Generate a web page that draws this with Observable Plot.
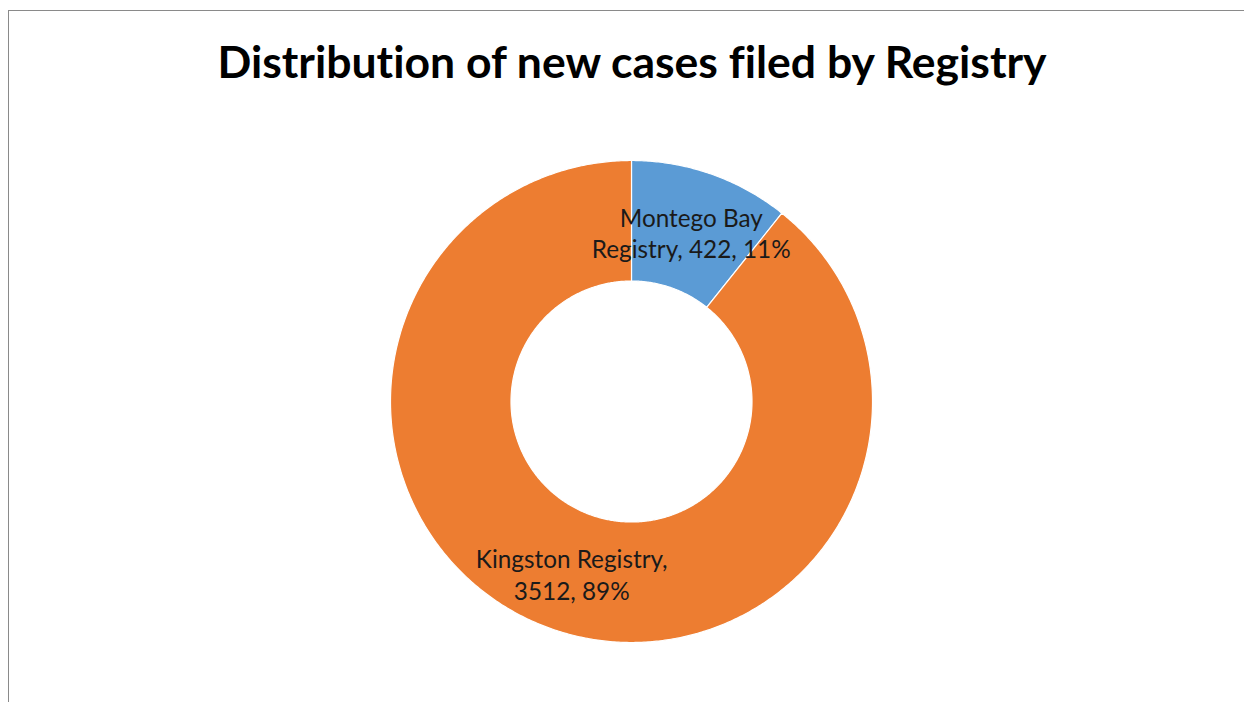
<!DOCTYPE html>
<html>
<head>
<meta charset="utf-8">
<script src="https://cdn.jsdelivr.net/npm/d3@7"></script>
<script src="https://cdn.jsdelivr.net/npm/@observablehq/plot@0.6"></script>
<style>
  html, body { margin: 0; padding: 0; background: #fff; }
  #wrap { position: relative; width: 1244px; height: 702px; overflow: hidden; }
  #frame { position: absolute; left: 8px; top: 10px; width: 1250px; height: 700px;
           border-left: 1.5px solid #8a8a8a; border-top: 1.5px solid #8a8a8a; box-sizing: border-box; }
  #title { position: absolute; left: 0; width: 1264px; top: 35px; text-align: center;
           font-family: Lato, "Open Sans", sans-serif; font-weight: 700; font-size: 44.5px; color: #000;
           font-variant-ligatures: none; line-height: 1.15; }
  #chart { position: absolute; left: 0; top: 0; }
  #chart text { font-variant-ligatures: none; }
</style>
</head>
<body>
<div id="wrap">
  <div id="frame"></div>
  <div id="chart"></div>
  <div id="title">Distribution of new cases filed by Registry</div>
</div>
<script>
const categories = ["Montego Bay Registry", "Kingston Registry"];
const values = [422, 3512];
const percentLabels = ["11%", "89%"];
const labelLines = [["Montego Bay", "Registry, 422, 11%"], ["Kingston Registry,", "3512, 89%"]];
const colors = ["#5B9BD5", "#ED7D31"];

const rows = categories.map((c, i) => ({category: c, value: values[i], label: labelLines[i].join("\n")}));
const arcs = d3.pie().sort(null).value(d => d.value)(rows);

const innerR = 0.5, outerR = 1;
const polyPoints = [];
arcs.forEach(a => {
  const n = Math.max(8, Math.ceil((a.endAngle - a.startAngle) / (Math.PI / 360)));
  for (let k = 0; k <= n; k++) {
    const t = a.startAngle + (a.endAngle - a.startAngle) * k / n;
    polyPoints.push({category: a.data.category, x: outerR * Math.sin(t), y: outerR * Math.cos(t)});
  }
  for (let k = n; k >= 0; k--) {
    const t = a.startAngle + (a.endAngle - a.startAngle) * k / n;
    polyPoints.push({category: a.data.category, x: innerR * Math.sin(t), y: innerR * Math.cos(t)});
  }
});
const labelPoints = arcs.map(a => {
  const m = (a.startAngle + a.endAngle) / 2, r = (innerR + outerR) / 2;
  return {category: a.data.category, label: a.data.label, x: r * Math.sin(m), y: r * Math.cos(m)};
});

const cx = 631, cy = 401, R = 241;
const chart = Plot.plot({
  width: 1244, height: 702,
  marginTop: 0, marginRight: 0, marginBottom: 0, marginLeft: 0,
  x: {domain: [-1, 1], range: [cx - R, cx + R], axis: null},
  y: {domain: [-1, 1], range: [cy + R, cy - R], axis: null},
  color: {domain: categories, range: colors},
  style: {background: "transparent"},
  marks: [
    Plot.line(polyPoints, {x: "x", y: "y", z: "category", fill: "category", stroke: "#ffffff",
      strokeWidth: 1.2, curve: "linear-closed"}),
    Plot.text(labelPoints, {x: "x", y: "y", text: "label", fill: "#1a1a1a", fontSize: 24.3,
      lineHeight: 1.28, fontFamily: "Lato, 'Open Sans', sans-serif", textAnchor: "middle", lineAnchor: "middle", dy: 2})
  ]
});
document.getElementById("chart").appendChild(chart);
</script>
</body>
</html>
